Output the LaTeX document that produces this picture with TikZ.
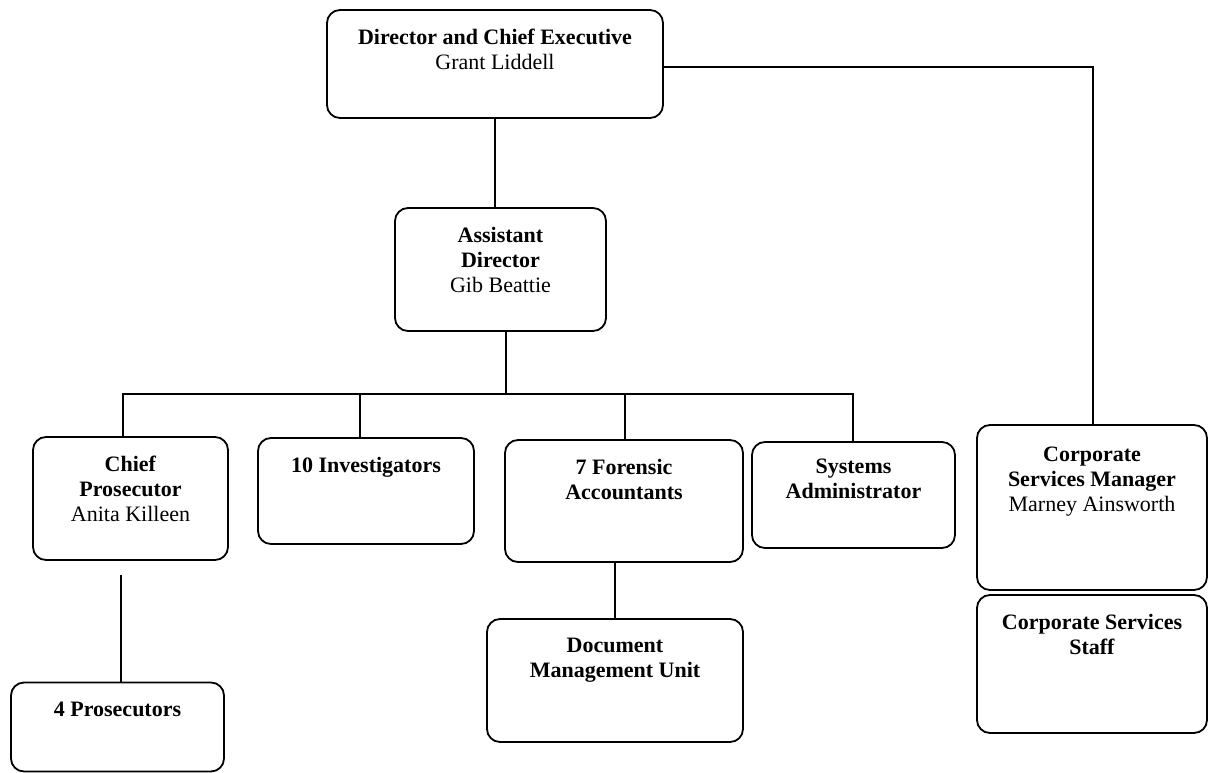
\documentclass[tikz,border=0pt]{standalone}
\usepackage{fontspec}
\setmainfont{Liberation Serif}
\begin{document}
\begin{tikzpicture}[x=1pt,y=-1pt,
  orgbox/.style={draw=black, line width=1.8pt, rounded corners=13pt, inner sep=0pt},
  boxtext/.style={inner sep=0pt, align=center, font=\fontsize{22}{25}\selectfont, anchor=north, yshift=-20pt},
  link/.style={draw=black, line width=1.5pt}]
\useasboundingbox[fill=white] (0,0) rectangle (1216,773);

\node[orgbox, minimum width=336pt, minimum height=108pt,
  label={[boxtext]north:{\textbf{Director and Chief Executive}\\Grant Liddell}}] (dir) at (495,64) {};
\node[orgbox, minimum width=211pt, minimum height=123pt,
  label={[boxtext]north:{\textbf{Assistant}\\\textbf{Director}\\Gib Beattie}}] (ad) at (500.5,269.5) {};
\node[orgbox, minimum width=195pt, minimum height=123pt,
  label={[boxtext]north:{\textbf{Chief}\\\textbf{Prosecutor}\\Anita Killeen}}] (cp) at (130.5,498.5) {};
\node[orgbox, minimum width=216pt, minimum height=106pt,
  label={[boxtext]north:{\textbf{10 Investigators}}}] (inv) at (366,491) {};
\node[orgbox, minimum width=238pt, minimum height=122pt,
  label={[boxtext]north:{\textbf{7 Forensic}\\\textbf{Accountants}}}] (fa) at (624,501) {};
\node[orgbox, minimum width=203pt, minimum height=106pt,
  label={[boxtext, yshift=2pt]north:{\textbf{Systems}\\\textbf{Administrator}}}] (sa) at (853.5,495) {};
\node[orgbox, minimum width=230pt, minimum height=165pt,
  label={[boxtext, yshift=-3pt]north:{\textbf{Corporate}\\\textbf{Services Manager}\\Marney Ainsworth}}] (csm) at (1092,507.5) {};
\node[orgbox, minimum width=230pt, minimum height=138pt,
  label={[boxtext]north:{\textbf{Corporate Services}\\\textbf{Staff}}}] (css) at (1092,664) {};
\node[orgbox, minimum width=256pt, minimum height=123pt,
  label={[boxtext]north:{\textbf{Document}\\\textbf{Management Unit}}}] (dmu) at (615,680.5) {};
\node[orgbox, minimum width=213pt, minimum height=89pt,
  label={[boxtext]north:{\textbf{4 Prosecutors}}}] (p4) at (117.5,727) {};

\coordinate (busL) at (123,394);
\coordinate (busR) at (853,394);
\coordinate (busAD) at (506,394);
\coordinate (busInv) at (360,394);
\coordinate (busFa) at (625,394);
\coordinate (corner) at (1093,67);
\coordinate (cpl) at (121,575);

\draw[link] (dir.south) -- (dir.south |- ad.north);
\draw[link] (busAD |- ad.south) -- (busAD);
\draw[link] (busL |- cp.north) -- (busL) -- (busR) -- (busR |- sa.north);
\draw[link] (busInv) -- (busInv |- inv.north);
\draw[link] (busFa) -- (busFa |- fa.north);
\draw[link] (dir.east |- corner) -- (corner) -- (corner |- csm.north);
\draw[link] (cpl) -- (cpl |- p4.north);
\draw[link] (dmu.north |- fa.south) -- (dmu.north);
\end{tikzpicture}
\end{document}
